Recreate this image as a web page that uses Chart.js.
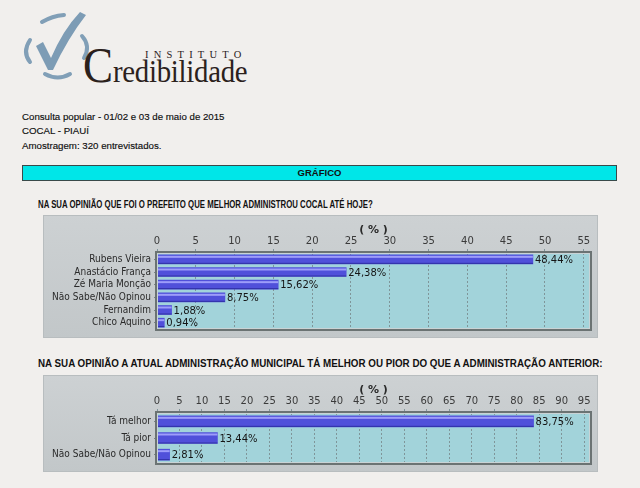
<!DOCTYPE html>
<html lang="pt">
<head>
  <meta charset="UTF-8" />
  <title>Instituto Credibilidade - Cocal</title>
  <script src="https://cdn.jsdelivr.net/npm/chart.js"></script>
  <style>
    html, body {
      margin: 0;
      padding: 0;
    }
    body {
      width: 640px;
      height: 488px;
      background-color: #f1efed;
      font-family: "Liberation Sans", Arial, sans-serif;
      position: relative;
      overflow: hidden;
    }
    .abs { position: absolute; }
    .logo-inst {
      left: 145px; top: 49px;
      font-family: "Liberation Serif", serif;
      font-size: 10.5px;
      letter-spacing: 5.2px;
      color: #2b211c;
    }
    .logo-cred {
      left: 83px; top: 40px;
      font-family: "Liberation Serif", serif;
      font-size: 50px;
      line-height: 50px;
      color: #2b211c;
      white-space: nowrap;
      transform: scaleX(0.9);
      transform-origin: left top;
    }
    .logo-cred span { font-size: 32px; letter-spacing: -0.3px; }
    .info {
      left: 22px;
      font-size: 9.7px;
      color: #0e0e0e;
      -webkit-text-stroke: 0.15px #0e0e0e;
    }
    .bar-title {
      left: 22px; top: 165px;
      width: 593px; height: 14px;
      background: #00e6e8;
      border: 1px solid #3a4a4a;
      font-size: 9.5px;
      font-weight: bold;
      text-align: center;
      line-height: 14px;
      color: #111;
    }
    .question {
      left: 38px;
      font-weight: bold;
      font-size: 10px;
      color: #111;
      white-space: nowrap;
      transform-origin: left top;
    }
    .panel {
      background: linear-gradient(#cdd1d3, #c2c7c9);
      box-shadow: inset 0 0 0 1px #b8bdbf;
    }
  </style>
</head>
<body>
  <svg class="abs" style="left:18px; top:8px" width="80" height="80" viewBox="0 0 80 80">
    <g fill="none" stroke="#819fb7" stroke-width="4" stroke-linecap="round">
      <path d="M24 14 Q34 8 46 7" />
      <path d="M12 32 Q4 44 12 54" />
      <path d="M27 66 Q40 73 52 66" />
      <path d="M64 28 Q73 38 66 50" />
    </g>
    <path d="M18 38 L25 34 L33 50 Q45 22 62 4 L68 7 Q50 30 35 62 L30 62 Z" fill="#7d9cb5" />
  </svg>
  <div class="abs logo-inst">INSTITUTO</div>
  <div class="abs logo-cred">C<span>redibilidade</span></div>

  <div class="abs info" style="top:111px">Consulta popular - 01/02 e 03 de maio de 2015</div>
  <div class="abs info" style="top:125px">COCAL - PIAUÍ</div>
  <div class="abs info" style="top:140px">Amostragem: 320 entrevistados.</div>

  <div class="abs bar-title">GRÁFICO</div>

  <div class="abs question" style="top:199px; transform:scaleX(0.78)">NA SUA OPINIÃO QUE FOI O PREFEITO QUE MELHOR ADMINISTROU COCAL ATÉ HOJE?</div>
  <div class="abs panel" style="left:43px; top:215px; width:555px; height:123px"></div>
  <canvas id="chart1" class="abs" style="left:43px; top:215px" width="555" height="123"></canvas>

  <div class="abs question" style="top:358px; transform:scaleX(0.98)">NA SUA OPINIÃO A ATUAL ADMINISTRAÇÃO MUNICIPAL TÁ MELHOR OU PIOR DO QUE A ADMINISTRAÇÃO ANTERIOR:</div>
  <div class="abs panel" style="left:43px; top:375px; width:555px; height:97px"></div>
  <canvas id="chart2" class="abs" style="left:43px; top:375px" width="555" height="97"></canvas>

  <script>
    // data
    const candidates = ["Rubens Vieira", "Anastácio França", "Zé Maria Monção", "Não Sabe/Não Opinou", "Fernandim", "Chico Aquino"];
    const candidateValues = [48.44, 24.38, 15.62, 8.75, 1.88, 0.94];

    const opinions = ["Tá melhor", "Tá pior", "Não Sabe/Não Opinou"];
    const opinionValues = [83.75, 13.44, 2.81];

    // plot background, border, bar highlight and value labels
    const panelPlugin = {
      id: "panel",
      beforeDraw(chart) {
        const a = chart.chartArea;
        const ctx = chart.ctx;
        ctx.save();
        ctx.fillStyle = "#a2d3da";
        ctx.fillRect(a.left, a.top, a.right - a.left, a.bottom - a.top);
        ctx.restore();
      },
      afterDatasetsDraw(chart) {
        const ctx = chart.ctx;
        const a = chart.chartArea;
        const meta = chart.getDatasetMeta(0);
        const vals = chart.data.datasets[0].data;
        ctx.save();
        meta.data.forEach((bar, i) => {
          const p = bar.getProps(["x", "y", "base", "height"], true);
          ctx.fillStyle = "rgba(170,170,255,0.85)";
          ctx.fillRect(p.base, p.y - p.height / 2 + 1, p.x - p.base, 2);
          ctx.fillStyle = "rgba(40,40,150,0.8)";
          ctx.fillRect(p.base, p.y + p.height / 2 - 1, p.x - p.base, 1);
          ctx.fillStyle = "#151515";
          ctx.font = "10px 'DejaVu Sans'";
          ctx.textBaseline = "middle";
          ctx.fillText(vals[i].toFixed(2).replace(".", ",") + "%", p.x + 2, p.y + 1);
        });
        ctx.strokeStyle = "#6b7373";
        ctx.lineWidth = 2;
        ctx.strokeRect(a.left - 1, a.top - 1, a.right - a.left + 2, a.bottom - a.top + 2);
        ctx.strokeStyle = "#c9d3d5";
        ctx.lineWidth = 1;
        ctx.strokeRect(a.left + 0.5, a.top + 0.5, a.right - a.left - 1, a.bottom - a.top - 1);
        ctx.restore();
      }
    };

    function makeChart(id, labels, values, maxVal, thickness) {
      return new Chart(document.getElementById(id), {
        type: "bar",
        data: {
          labels: labels,
          datasets: [{
            data: values,
            backgroundColor: "#5050da",
            borderWidth: 0,
            barThickness: thickness
          }]
        },
        options: {
          indexAxis: "y",
          responsive: false,
          animation: false,
          events: [],
          layout: { padding: { top: 0, left: 0, right: 8, bottom: 5 } },
          plugins: {
            legend: { display: false },
            tooltip: { enabled: false }
          },
          scales: {
            x: {
              position: "top",
              min: 0,
              max: maxVal,
              afterFit(scale) { scale.height = 38; },
              ticks: {
                stepSize: 5,
                includeBounds: false,
                autoSkip: false,
                maxRotation: 0,
                padding: 2,
                color: "#3a3a3a",
                font: { family: "DejaVu Sans", size: 10 }
              },
              grid: {
                color: "#7f9599",
                tickColor: "#7f9599",
                tickLength: 4,
                tickBorderDash: [2, 2]
              },
              border: { display: false, dash: [2, 2] },
              title: {
                display: true,
                text: "( % )",
                color: "#2a2a2a",
                padding: { top: 9, bottom: 0 },
                font: { family: "DejaVu Sans", size: 11, weight: "bold" }
              }
            },
            y: {
              afterFit(scale) { scale.width = 114; },
              ticks: {
                autoSkip: false,
                padding: 3,
                color: "#2a2a2a",
                font: { family: "'DejaVu Sans Condensed', 'DejaVu Sans'", size: 10 }
              },
              grid: {
                offset: false,
                drawOnChartArea: false,
                tickLength: 3,
                color: "#7a8486"
              },
              border: { display: true, color: "#7a8486", width: 1 }
            }
          }
        },
        plugins: [panelPlugin]
      });
    }

    makeChart("chart1", candidates, candidateValues, 55.8, 9);
    makeChart("chart2", opinions, opinionValues, 96.3, 11);
  </script>
</body>
</html>
